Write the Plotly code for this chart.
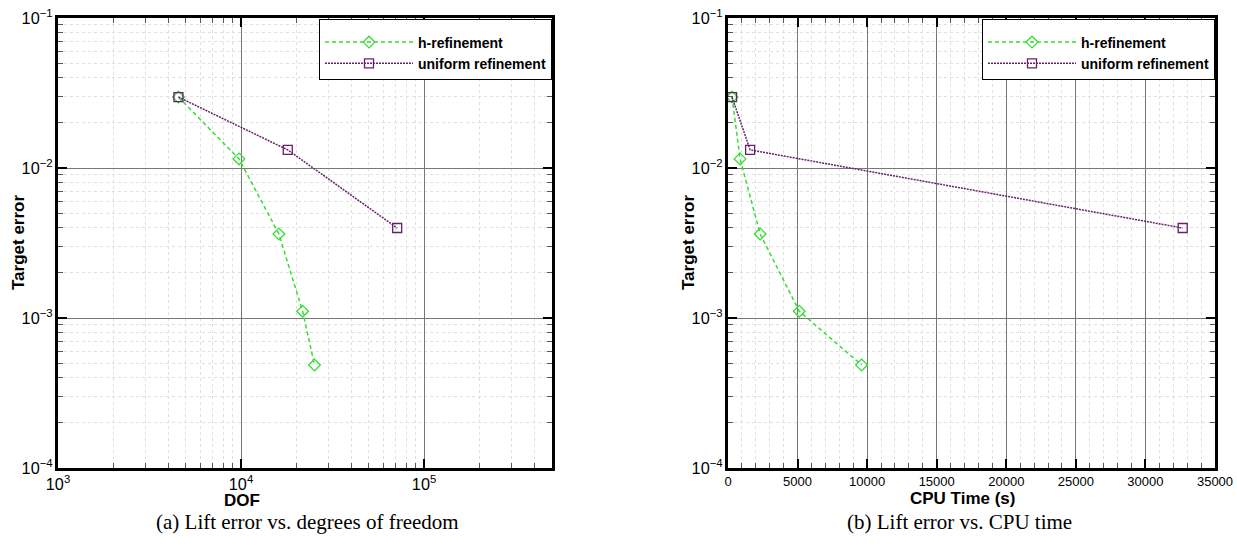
import plotly.graph_objects as go

# Data
h_dof = [4550, 9750, 16100, 21700, 25200]
h_err = [0.0297, 0.0115, 0.00363, 0.00111, 0.000486]
u_dof = [4550, 18000, 71300]
u_err = [0.0297, 0.0132, 0.00398]
h_cpu = [290, 866, 2310, 5120, 9600]
u_cpu = [290, 1590, 32680]

GREEN = "#33dd33"
PURPLE = "#66206a"
W, H = 1237, 546

fig = go.Figure()

def add(x, y, name, color, dash, symbol, xa, ya, legend, show):
    fig.add_trace(go.Scatter(
        x=x, y=y, name="<b>" + name + "</b>", mode="lines+markers",
        line=dict(color=color, dash=dash, width=1.5),
        marker=dict(symbol=symbol, size=9, color=color, line=dict(color=color, width=1.3)),
        xaxis=xa, yaxis=ya, legend=legend, showlegend=show))

add(h_dof, h_err, "h-refinement", GREEN, "4px,3px", "diamond-open", "x", "y", "legend", True)
add(u_dof, u_err, "uniform refinement", PURPLE, "2px,1px", "square-open", "x", "y", "legend", True)
add(h_cpu, h_err, "h-refinement", GREEN, "4px,3px", "diamond-open", "x2", "y2", "legend2", True)
add(u_cpu, u_err, "uniform refinement", PURPLE, "2px,1px", "square-open", "x2", "y2", "legend2", True)

def px(x):
    return x / W

def py(y):
    return 1 - y / H

ax_common = dict(
    showline=True, linecolor="black", linewidth=2.5, mirror="ticks",
    ticks="inside", ticklen=9, tickwidth=1.5, tickcolor="black",
    showgrid=True, gridcolor="#777777", gridwidth=1,
    zeroline=False, automargin=False,
    tickfont=dict(family="Liberation Sans, Arial", size=13, color="black"),
)
minor_common = dict(ticks="inside", ticklen=5, tickwidth=1, tickcolor="#555",
                    showgrid=True, gridcolor="#e0e0e0", griddash="dot", gridwidth=1)

title_font = dict(family="Liberation Sans, Arial", size=17, color="black")
leg_font = dict(family="Liberation Sans, Arial", size=14, color="black")

fig.update_layout(
    width=W, height=H, margin=dict(l=0, r=0, t=0, b=0, autoexpand=False),
    paper_bgcolor="white", plot_bgcolor="white",
    xaxis=dict(**ax_common, type="log", range=[3, 5.69897], dtick=1,
               exponentformat="power",
               domain=[px(58), px(552)], anchor="y",
               minor=dict(**minor_common, dtick="D1")),
    yaxis=dict(**ax_common, type="log", range=[-4, -1], dtick=1,
               exponentformat="power",
               domain=[py(468), py(18)], anchor="x",
               minor=dict(**minor_common, dtick="D1")),
    xaxis2=dict(**ax_common, type="linear", range=[0, 35000], dtick=5000,
                tickformat="d",
                domain=[px(728), px(1215)], anchor="y2",
                minor=dict(**minor_common, dtick=1000)),
    yaxis2=dict(**ax_common, type="log", range=[-4, -1], dtick=1,
                exponentformat="power",
                domain=[py(468), py(18)], anchor="x2",
                minor=dict(**minor_common, dtick="D1")),
    legend=dict(x=px(552), y=py(19), xanchor="right", yanchor="top",
                bgcolor="white", bordercolor="black", borderwidth=1,
                font=leg_font, itemwidth=88, tracegroupgap=0,
                title=dict(text=" ", font=dict(size=5))),
    legend2=dict(x=px(1215), y=py(19), xanchor="right", yanchor="top",
                 bgcolor="white", bordercolor="black", borderwidth=1,
                 font=leg_font, itemwidth=88, tracegroupgap=0,
                 title=dict(text=" ", font=dict(size=5))),
)

def note(text, x, y, font, angle=0):
    fig.add_annotation(text=text, xref="paper", yref="paper", x=px(x), y=py(y),
                       xanchor="center", yanchor="middle", showarrow=False,
                       font=font, textangle=angle)

note("<b>DOF</b>", 242, 500, title_font)
note("<b>CPU Time (s)</b>", 963, 498, title_font)
note("<b>Target error</b>", 19, 243, title_font, -90)
note("<b>Target error</b>", 689, 243, title_font, -90)

cap_font = dict(family="Liberation Serif, DejaVu Serif", size=21, color="black")
note("(a) Lift error vs. degrees of freedom", 307, 522, cap_font)
note("(b) Lift error vs. CPU time", 959, 522, cap_font)

fig.write_html("out.html")
